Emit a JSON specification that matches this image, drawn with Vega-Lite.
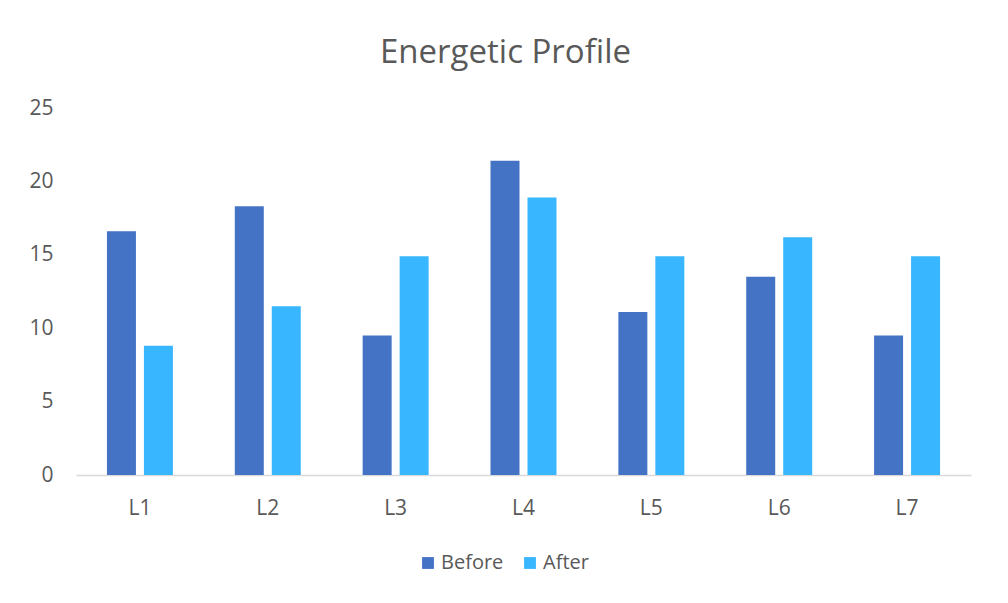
{
  "$schema": "https://vega.github.io/schema/vega-lite/v6.json",
  "width": 895,
  "height": 367,
  "autosize": "none",
  "padding": {"left": 76, "top": 108, "right": 37, "bottom": 128},
  "background": "white",
  "title": {
    "text": "Energetic Profile",
    "fontSize": 33,
    "font": "Open Sans",
    "fontWeight": "normal",
    "color": "#595959",
    "anchor": "middle",
    "offset": 27,
    "dx": -18
  },
  "data": {
    "values": [
      {"level": "L1", "series": "Before", "value": 16.6},
      {"level": "L1", "series": "After", "value": 8.8},
      {"level": "L2", "series": "Before", "value": 18.3},
      {"level": "L2", "series": "After", "value": 11.5},
      {"level": "L3", "series": "Before", "value": 9.5},
      {"level": "L3", "series": "After", "value": 14.9},
      {"level": "L4", "series": "Before", "value": 21.4},
      {"level": "L4", "series": "After", "value": 18.9},
      {"level": "L5", "series": "Before", "value": 11.1},
      {"level": "L5", "series": "After", "value": 14.9},
      {"level": "L6", "series": "Before", "value": 13.5},
      {"level": "L6", "series": "After", "value": 16.2},
      {"level": "L7", "series": "Before", "value": 9.5},
      {"level": "L7", "series": "After", "value": 14.9}
    ]
  },
  "mark": {"type": "bar"},
  "encoding": {
    "x": {
      "field": "level",
      "type": "nominal",
      "title": null,
      "scale": {"paddingInner": 0.484, "paddingOuter": 0.242},
      "axis": {
        "labelAngle": 0,
        "labelFontSize": 21,
        "labelFont": "Open Sans",
        "labelColor": "#595959",
        "labelPadding": 22,
        "ticks": false,
        "domainColor": "#d9d9d9",
        "domainWidth": 1.5
      }
    },
    "xOffset": {
      "field": "series",
      "type": "nominal",
      "sort": ["Before", "After"],
      "scale": {"paddingInner": 0.216, "paddingOuter": 0}
    },
    "y": {
      "field": "value",
      "type": "quantitative",
      "title": null,
      "scale": {"domain": [0, 25]},
      "axis": {
        "values": [0, 5, 10, 15, 20, 25],
        "grid": false,
        "domain": false,
        "ticks": false,
        "labelFontSize": 21,
        "labelFont": "Open Sans",
        "labelColor": "#595959",
        "labelPadding": 23
      }
    },
    "color": {
      "field": "series",
      "type": "nominal",
      "sort": ["Before", "After"],
      "scale": {"domain": ["Before", "After"], "range": ["#4472C4", "#38B6FF"]},
      "legend": {
        "title": null,
        "orient": "none",
        "direction": "horizontal",
        "legendX": 342,
        "legendY": 445,
        "symbolType": "square",
        "symbolSize": 140,
        "symbolStrokeWidth": 0,
        "labelFontSize": 20,
        "labelFont": "Open Sans",
        "labelColor": "#595959",
        "columnPadding": 16,
        "labelOffset": 3
      }
    }
  },
  "config": {"view": {"stroke": null}}
}
